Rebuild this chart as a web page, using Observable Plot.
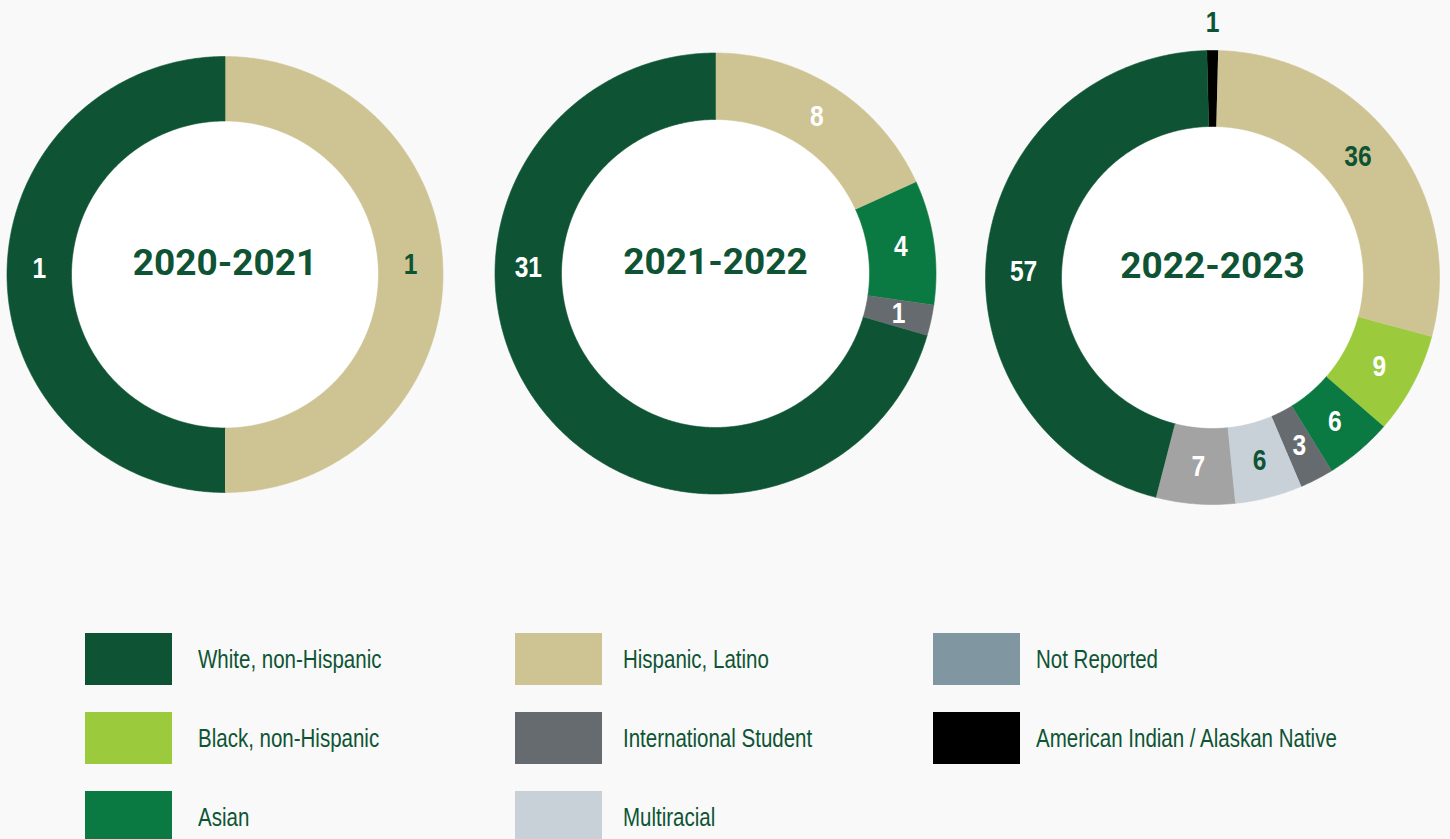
<!DOCTYPE html>
<html><head><meta charset="utf-8">
<script src="https://cdn.jsdelivr.net/npm/d3@7"></script>
<script src="https://cdn.jsdelivr.net/npm/@observablehq/plot@0.6"></script>
<style>
body{margin:0;background:#f8f9f8;}
#wrap{position:relative;width:1450px;height:839px;overflow:hidden;background:#f8f9f8;}
#chart{position:absolute;left:0;top:0;}
#legend{position:absolute;left:85px;top:633px;display:grid;grid-auto-flow:column;grid-template-rows:repeat(3,52px);grid-template-columns:430px 418px 420px;row-gap:27px;}
.item{display:flex;align-items:center;font-family:"Liberation Sans",Arial,sans-serif;font-size:25px;color:#0e5434;white-space:nowrap;}
.item span{display:inline-block;transform:scaleX(0.82);transform-origin:left center;}
.sw{width:87px;height:52px;flex:none;}
</style></head>
<body><div id="wrap"><div id="chart"></div><div id="legend"></div></div>
<script>
// ---- data ----
const categories = ["American Indian / Alaskan Native","Hispanic, Latino","Black, non-Hispanic","Asian","International Student","Multiracial","Not Reported","White, non-Hispanic"];
const segmentColors = ["#000000","#cec493","#9bca3c","#0b7a42","#656b6e","#c9d1d8","#a3a3a3","#0e5434"];
const years = ["2020-2021","2021-2022","2022-2023"];
const counts2020 = [0,1,0,0,0,0,0,1];
const counts2021 = [0,8,0,4,1,0,0,31];
const counts2022 = [1,36,9,6,3,6,7,57];
const legendOrder = ["White, non-Hispanic","Black, non-Hispanic","Asian","Hispanic, Latino","International Student","Multiracial","Not Reported","American Indian / Alaskan Native"];
const legendColors = ["#0e5434","#9bca3c","#0b7a42","#cec493","#656b6e","#c9d1d8","#8096a0","#000000"];
const darkLabels = ["2020-2021|Hispanic, Latino","2022-2023|Hispanic, Latino","2022-2023|Multiracial"];

// ---- layout ----
const counts = [counts2020, counts2021, counts2022];
const layout = [
  {cx:224.5, cy:274, outer:218, inner:153.5, centerFirst:false},
  {cx:715, cy:273, outer:220.5, inner:154, centerFirst:false},
  {cx:1212, cy:277, outer:227, inner:151, centerFirst:true}
];
const legendTextGap = [26, 21, 16];
const GREEN = "#0e5434";
const rad = a => a * Math.PI / 180;
const pt = (L, r, a) => ({x: L.cx + r * Math.sin(rad(a)), y: L.cy - r * Math.cos(rad(a))});

const ringPts = [], labels = [], centers = [];
years.forEach((year, i) => {
  const L = layout[i], vals = counts[i];
  const total = d3.sum(vals);
  const firstIdx = vals.findIndex(v => v > 0);
  let a = L.centerFirst ? -vals[firstIdx] / total * 180 : 0;
  centers.push({year, cx: L.cx, cy: L.cy, inner: L.inner});
  vals.forEach((v, j) => {
    if (!v) return;
    const a0 = a, a1 = a + v / total * 360; a = a1;
    const key = year + "|" + categories[j];
    const n = Math.max(2, Math.ceil((a1 - a0) / 0.5));
    for (let k = 0; k <= n; k++) { const p = pt(L, L.outer, a0 + (a1 - a0) * k / n); ringPts.push({...p, key, category: categories[j]}); }
    for (let k = n; k >= 0; k--) { const p = pt(L, L.inner, a0 + (a1 - a0) * k / n); ringPts.push({...p, key, category: categories[j]}); }
    let la = (a0 + a1) / 2;
    if (a0 <= 270 && a1 >= 270) la = 272;
    else if (j === 1 && v / total > 0.2) la -= 3;
    const small = v / total < 0.02;
    const r = small ? L.outer + 28 : (L.outer + L.inner) / 2;
    const p = pt(L, r, la);
    labels.push({...p, text: String(v), dark: small || darkLabels.includes(key)});
  });
});

const labelFont = "'Liberation Sans',Arial,sans-serif";
const plot = Plot.plot({
  width: 1450, height: 560, margin: 0,
  x: {domain: [0, 1450], range: [0, 1450], axis: null},
  y: {domain: [0, 560], range: [0, 560], axis: null},
  color: {domain: categories, range: segmentColors},
  style: {background: "transparent", overflow: "visible"},
  marks: [
    ...centers.map(c => Plot.dot([c], {x: "cx", y: "cy", r: c.inner + 1, fill: "#ffffff", stroke: "#cfd5d1", strokeWidth: 1})),
    Plot.line(ringPts, {x: "x", y: "y", z: "key", fill: "category", stroke: "category", strokeWidth: 0.6, curve: "linear"}),
    Plot.text(labels.filter(d => !d.dark), {x: "x", y: "y", text: "text", fill: "#ffffff", fontSize: 30, fontWeight: "bold", fontFamily: labelFont, className: "narrow"}),
    Plot.text(labels.filter(d => d.dark), {x: "x", y: "y", text: "text", fill: GREEN, fontSize: 30, fontWeight: "bold", fontFamily: labelFont, className: "narrow"}),
    Plot.text(centers, {x: "cx", y: d => d.cy - 11, text: "year", fill: GREEN, fontSize: 37, fontWeight: "bold", fontFamily: "Roboto, 'Liberation Sans', sans-serif"})
  ]
});
// condense the number labels horizontally (narrow grotesque look)
plot.querySelectorAll("g.narrow text").forEach(t => {
  let tr = t.getAttribute("transform");
  if (!tr) {
    const x = +t.getAttribute("x") || 0, y = +t.getAttribute("y") || 0;
    t.removeAttribute("x"); t.removeAttribute("y");
    tr = `translate(${x},${y})`;
  }
  t.setAttribute("transform", tr + " scale(0.82,1)");
});
document.getElementById("chart").append(plot);

// ---- legend ----
const leg = d3.select("#legend");
legendOrder.forEach((name, i) => {
  const col = Math.floor(i / 3);
  const it = leg.append("div").attr("class", "item");
  it.append("div").attr("class", "sw").style("background", legendColors[i]).style("margin-right", legendTextGap[col] + "px");
  it.append("span").text(name);
});
</script>
</body></html>
